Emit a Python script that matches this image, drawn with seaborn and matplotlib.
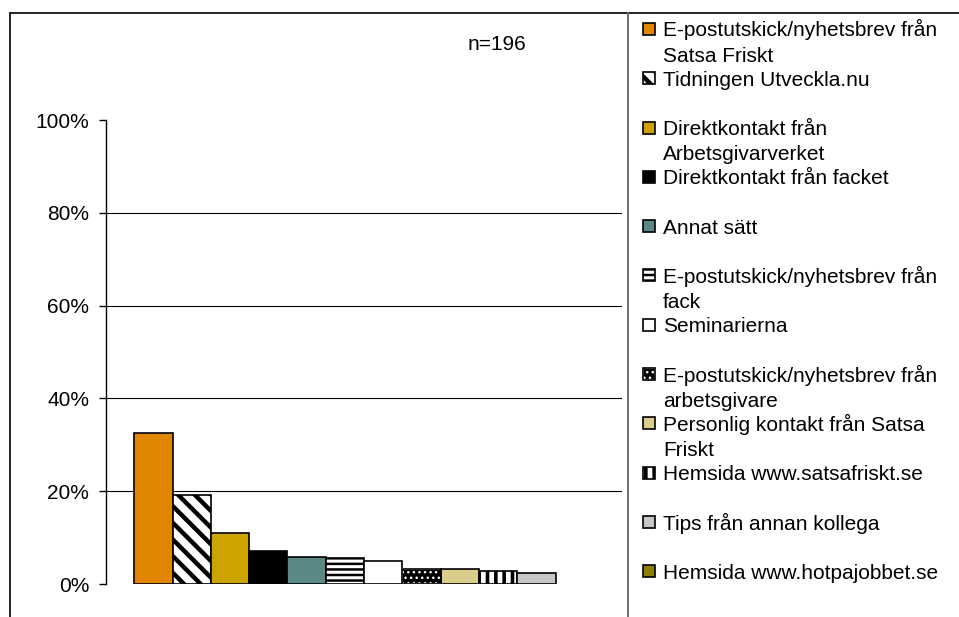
"""
Hur fick du information om Satsa Friskt? - stapeldiagram med mönster
"""
import matplotlib
matplotlib.use('Agg')
import matplotlib.pyplot as plt
from matplotlib.patches import Rectangle
from matplotlib.lines import Line2D
from matplotlib.ticker import PercentFormatter
import seaborn as sns
import pandas as pd

# ================================================================================
# DATA
# ================================================================================

kanaler = [
    'E-postutskick/nyhetsbrev från\nSatsa Friskt',
    'Tidningen Utveckla.nu',
    'Direktkontakt från\nArbetsgivarverket',
    'Direktkontakt från facket',
    'Annat sätt',
    'E-postutskick/nyhetsbrev från\nfack',
    'Seminarierna',
    'E-postutskick/nyhetsbrev från\narbetsgivare',
    'Personlig kontakt från Satsa\nFriskt',
    'Hemsida www.satsafriskt.se',
    'Tips från annan kollega',
    'Hemsida www.hotpajobbet.se',
]
andelar = [0.325, 0.192, 0.109, 0.072, 0.058, 0.055, 0.050, 0.032, 0.032, 0.028, 0.023, 0.0]
antal_svar = 196
y_ticks = [0, 0.2, 0.4, 0.6, 0.8, 1.0]

# Stil per stapel: (fyllnad, mönster, mönsterfärg, mönsterlinje)
farger = ['#E08600', 'white', '#CCA400', 'black', '#5A8885', 'white',
          'white', 'black', '#D8CD8B', 'white', '#C6C6C6', '#8A7F00']
monster = [None, '\\\\', None, None, None, '---', None, '...', None, '||', None, None]
monster_farg = ['black', 'black', 'black', 'black', 'black', 'black',
                'black', 'white', 'black', 'black', 'black', 'black']
monster_lw = [1, 3.2, 1, 1, 1, 1.8, 1, 1, 1, 2.6, 1, 1]

W, H = 959, 617
FONT = 'Liberation Sans'


def fx(px):
    return px / W


def fy(py):
    return 1 - py / H


def style_patch(p, i):
    """Applique couleur et hachure à un rectangle"""
    p.set_facecolor(farger[i])
    if monster[i]:
        p.set_hatch(monster[i])
        p.set_edgecolor(monster_farg[i])
        if hasattr(p, 'set_hatch_linewidth'):
            p.set_hatch_linewidth(monster_lw[i])
    else:
        p.set_edgecolor('black')


# ================================================================================
# FIGURE
# ================================================================================

sns.set_theme(style='white')
plt.rcParams['font.family'] = [FONT, 'DejaVu Sans']
plt.rcParams['hatch.linewidth'] = 2.5

fig = plt.figure(figsize=(W / 100, H / 100), dpi=100)
ax = fig.add_axes([fx(106), fy(584), (622 - 106) / W, (584 - 120) / H])

df = pd.DataFrame({'grupp': [''] * len(kanaler), 'kanal': kanaler, 'andel': andelar})
sns.barplot(data=df, x='grupp', y='andel', hue='kanal', hue_order=kanaler,
            palette=farger, saturation=1, width=12 * 38.3 / 516, gap=0,
            edgecolor='black', linewidth=1.2, legend=False, ax=ax)

for i, p in enumerate(list(ax.patches)):
    style_patch(p, i)
    if p.get_height() == 0:
        p.set_visible(False)
        continue
    if monster_farg[i] != 'black':
        # contour noir au-dessus de la hachure blanche
        ax.add_patch(Rectangle((p.get_x(), p.get_y()), p.get_width(), p.get_height(),
                               fill=False, edgecolor='black', linewidth=1.2, zorder=p.get_zorder() + 0.1))

ax.set_xlim(-0.5, 0.5)
ax.set_ylim(0, 1)
ax.set_yticks(y_ticks)
ax.yaxis.set_major_formatter(PercentFormatter(1.0, decimals=0))
ax.set_xticks([])
ax.set_xlabel('')
ax.set_ylabel('')
ax.tick_params(axis='y', direction='out', length=5, width=1, color='black',
               pad=7, labelsize=15, labelcolor='black', left=True)
for side in ['top', 'right', 'bottom']:
    ax.spines[side].set_visible(False)
ax.spines['left'].set_color('black')
ax.spines['left'].set_linewidth(1)
ax.set_facecolor('white')

ax.yaxis.grid(True, color='black', linewidth=0.8)
ax.set_axisbelow(True)
grid = ax.get_ygridlines()
grid[0].set_visible(False)
grid[-1].set_visible(False)

fig.text(fx(497), fy(45), f'n={antal_svar}', ha='center', va='center',
         fontsize=15, color='black')

# Légende manuelle (entrées régulièrement espacées)
y0, dy, radavstand = 29, 49.3, 25
for i, label in enumerate(kanaler):
    yc = y0 + i * dy
    r = Rectangle((fx(643), fy(yc + 6)), 12 / W, 12 / H, transform=fig.transFigure,
                  linewidth=1.2)
    style_patch(r, i)
    fig.add_artist(r)
    if monster_farg[i] != 'black':
        fig.add_artist(Rectangle((fx(643), fy(yc + 6)), 12 / W, 12 / H,
                                 transform=fig.transFigure, fill=False,
                                 edgecolor='black', linewidth=1.2))
    for j, rad in enumerate(label.split('\n')):
        fig.text(fx(663), fy(yc + 7.5 + j * radavstand), rad, ha='left',
                 va='baseline', fontsize=15, color='black')

# Cadre
fig.add_artist(Line2D([fx(10), fx(10)], [fy(13), 0], transform=fig.transFigure,
                      color='black', linewidth=1.2))
fig.add_artist(Line2D([fx(10), 1], [fy(13), fy(13)], transform=fig.transFigure,
                      color='black', linewidth=1.2))
fig.add_artist(Line2D([fx(628), fx(628)], [fy(13), 0], transform=fig.transFigure,
                      color='#707070', linewidth=1.4))

fig.savefig('out.png', dpi=100, facecolor='white')
